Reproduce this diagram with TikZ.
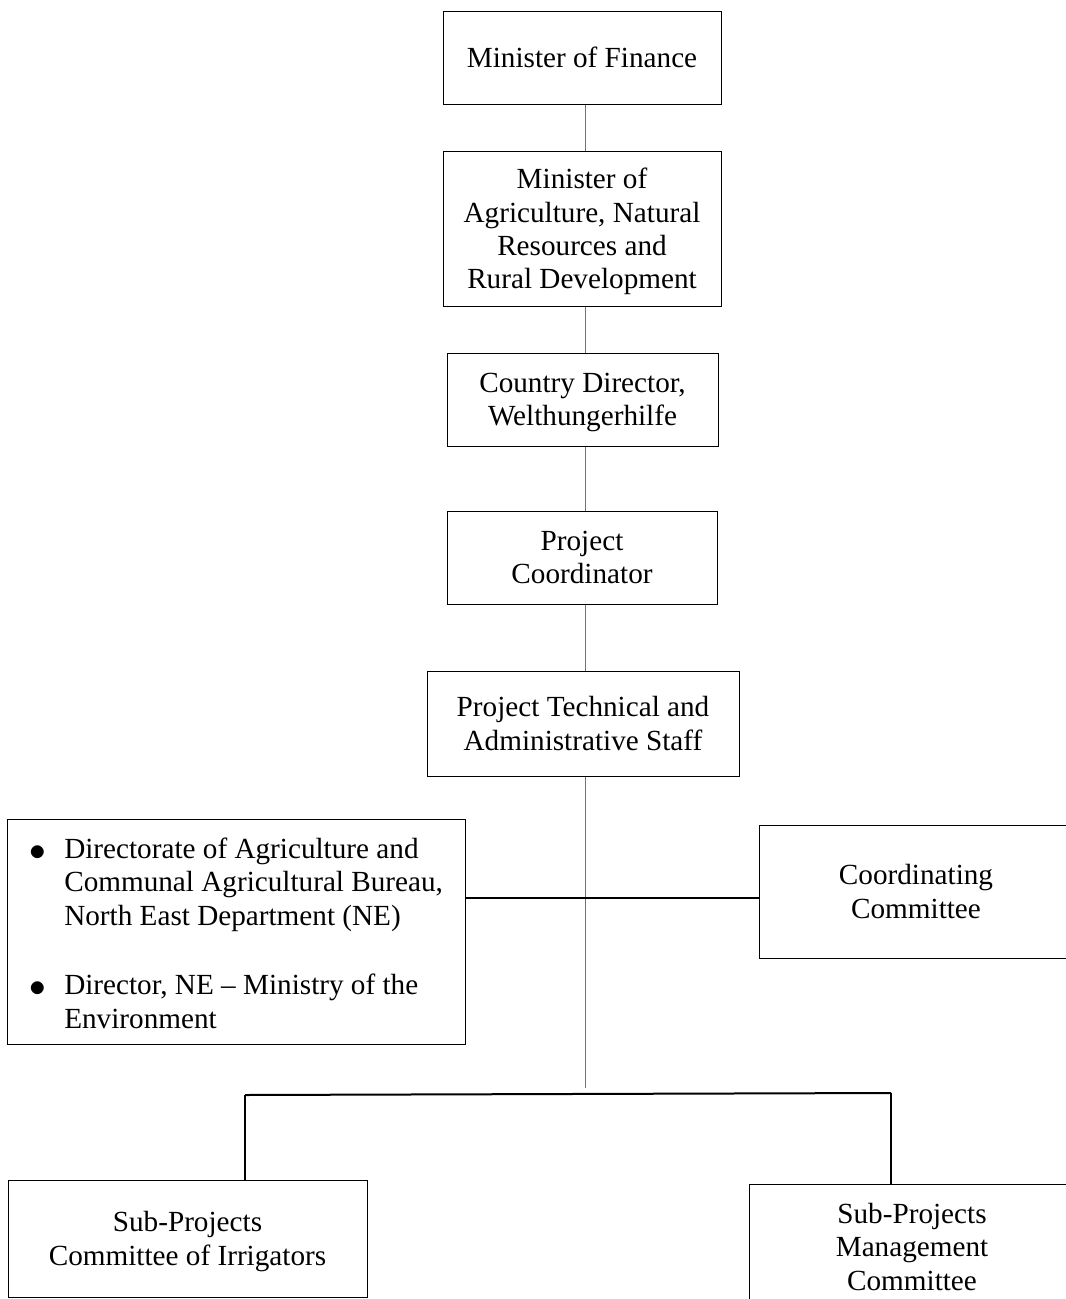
\documentclass[tikz,border=0pt]{standalone}
\usepackage{fontspec}
\setmainfont{Liberation Serif}
\newcommand\itembullet{\raisebox{-1.5pt}{\fontsize{27pt}{27pt}\selectfont$\bullet$}}

\begin{document}
\begin{tikzpicture}[x=0.75pt, y=-0.75pt]
   \tikzstyle{box}=[draw, line width=0.75pt, align=center, inner sep=2pt, text depth=0pt, font=\fontsize{21.9pt}{25.1pt}\selectfont]
   \tikzstyle{trunk}=[draw=black!55, line width=0.75pt]
   \tikzstyle{link}=[draw, line width=1.5pt]
   \tikzstyle{drop}=[draw, line width=0.9pt]

\useasboundingbox (0,0) rectangle (1065,1299);

\node[box, minimum width=208.5pt, minimum height=69.75pt] (fin) at (582,57.5) {Minister of Finance};
\node[box, minimum width=208.5pt, minimum height=116.25pt] (agr) at (582,228.5)
    {Minister of\\Agriculture, Natural\\Resources and\\Rural Development};
\node[box, minimum width=203.25pt, minimum height=69.75pt] (cd) at (582.5,399.5)
    {Country Director,\\Welthungerhilfe};
\node[box, minimum width=202.5pt, minimum height=69.75pt] (pc) at (582,557.5)
    {Project\\Coordinator};
\node[box, minimum width=234pt, minimum height=78.75pt] (pts) at (583,723.5)
    {Project Technical and\\Administrative Staff};

\node[box, minimum width=343.5pt, minimum height=168.75pt] (dir) at (236,931.5)
    {\begin{tabular}[b]{@{}l@{\hspace{14pt}}l@{}}
     \itembullet & Directorate of Agriculture and\\
                 & Communal Agricultural Bureau,\\
                 & North East Department (NE)\\[2pt]
                 & \\
     \itembullet & Director, NE -- Ministry of the\\
                 & Environment
     \end{tabular}};
\node[box, minimum width=235.5pt, minimum height=99.75pt] (coord) at (916,891.5)
    {Coordinating\\Committee};

\node[box, minimum width=269.25pt, minimum height=87.75pt] (irr) at (187.5,1238.5)
    {Sub-Projects\\Committee of Irrigators};
\node[box, minimum width=244.5pt, minimum height=93.75pt] (mgmt) at (912,1246.5)
    {Sub-Projects\\Management\\Committee};

% main line
\coordinate (trunkend) at (585,1088);
\coordinate (hub) at (585,898);
\draw[trunk] (fin.south -| trunkend) -- (agr.north -| trunkend);
\draw[trunk] (agr.south -| trunkend) -- (cd.north -| trunkend);
\draw[trunk] (cd.south -| trunkend) -- (pc.north -| trunkend);
\draw[trunk] (pc.south -| trunkend) -- (pts.north -| trunkend);
\draw[trunk] (pts.south -| trunkend) -- (trunkend);

% side boxes
\draw[link] (dir.east |- hub) -- (coord.west |- hub);

% sub-projects
\coordinate (busL) at (245,1095);
\coordinate (busR) at (891,1093);
\draw[link] (busL) -- (busR);
\draw[drop] (busL) -- (busL |- irr.north);
\draw[drop] (busR) -- (busR |- mgmt.north);

\end{tikzpicture}
\end{document}
